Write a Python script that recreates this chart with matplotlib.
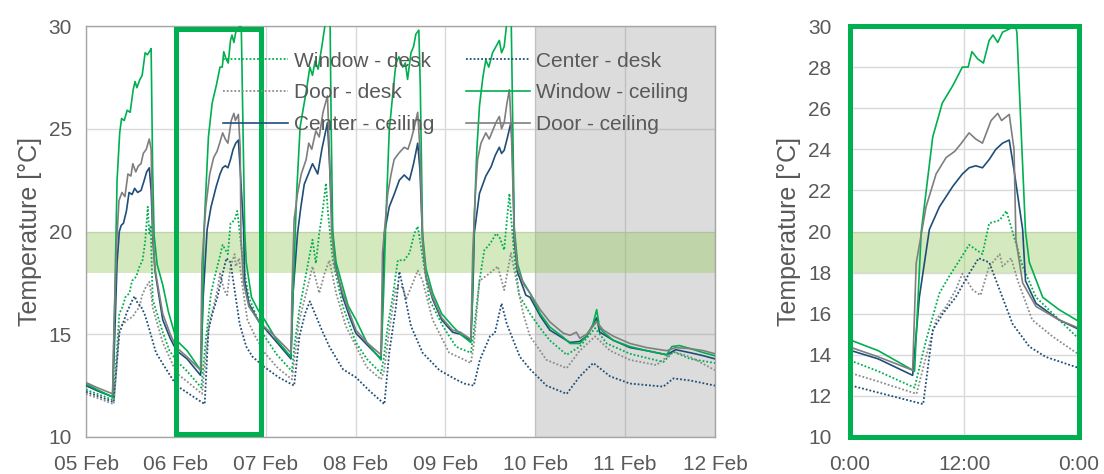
import matplotlib
matplotlib.use("Agg")
import matplotlib.pyplot as plt
import matplotlib.transforms as mtransforms
from matplotlib.patches import Rectangle

plt.rcParams['font.family'] = ['Liberation Sans', 'DejaVu Sans']

# hours since 05 Feb 00:00, temperature in degC
wc_t = [0, 3, 7.1, 7.6, 8.3, 9.0, 9.5, 10.2, 11.0, 11.8, 12.6, 13.1, 13.6, 14.4, 15.0, 15.8, 16.4, 17.1, 17.4, 17.8, 18.2, 19.0, 20.5, 22.0, 24.2,
        27, 30.8, 31.5, 32.7, 33.7, 34.8, 35.8, 36.4, 36.8, 37.4, 38.0, 38.6, 39.0, 39.5, 40.0, 40.9, 41.2, 41.5, 42.4, 42.8, 44.2, 45.9, 47.7,
        51, 54.75, 55.5, 56.3, 57.2, 58.9, 59.8, 60.5, 61.2, 62.0, 63.0, 63.8, 64.5, 65.2, 65.5, 65.9, 66.8, 68.6, 70.0, 72.1,
        75, 78.8, 79.5, 80.1, 81.0, 82.0, 82.8, 83.6, 84.6, 85.3, 85.9, 86.8, 87.5, 88.1, 88.9, 89.3, 89.9, 90.8, 92.6, 95.0, 97.9,
        100, 102.8, 103.2, 103.7, 104.4, 105.1, 106.0, 106.8, 107.6, 108.6, 109.5, 110.4, 111.0, 111.7, 112.3, 112.9, 113.6, 114.0, 114.4, 115.3, 116.6,
        118.6, 121.3, 123.9, 127.5, 129.3, 131.9, 133.7, 135.3, 136.4, 137.2, 138.2, 140.9, 145.3, 149.8, 155.1, 156.5, 158.5, 161.4, 165, 168]
wc_v = [12.6, 12.3, 11.95, 16.0, 22.5, 24.8, 25.5, 25.4, 25.9, 25.8, 26.9, 27.3, 27.0, 27.4, 27.6, 28.7, 28.6, 28.8, 28.9, 23.0, 19.8, 18.4, 17.4, 16.1, 14.7,
        14.2, 13.2, 20.0, 24.6, 26.25, 27.1, 28.0, 28.0, 28.75, 28.4, 28.2, 29.3, 29.56, 29.2, 29.7, 29.9, 30.3, 29.7, 20.0, 18.5, 16.8, 16.2, 15.7,
        14.7, 13.9, 18.0, 22.0, 25.1, 26.9, 28.0, 27.6, 28.3, 27.9, 29.0, 30.0, 31.0, 30.2, 25.0, 20.0, 18.5, 17.3, 16.4, 15.7,
        14.6, 13.75, 17.0, 20.6, 24.9, 26.8, 28.2, 28.5, 28.0, 28.2, 27.4, 28.7, 29.0, 29.6, 29.8, 27.0, 19.9, 18.2, 17.0, 16.0, 15.4,
        15.0, 14.6, 16.5, 20.6, 24.0, 26.1, 27.5, 28.35, 28.0, 28.7, 29.0, 29.3, 28.7, 29.0, 30.0, 31.0, 30.0, 25.0, 20.2, 18.4, 17.6,
        17.0, 16.0, 15.35, 14.85, 14.55, 14.55, 14.9, 15.4, 16.2, 15.3, 15.1, 14.7, 14.4, 14.2, 14.0, 14.4, 14.45, 14.3, 14.1, 13.95]

dc_t = [0, 3, 7.1, 7.5, 8.2, 8.8, 9.6, 10.4, 11.2, 12.0, 12.5, 13.3, 14.0, 14.7, 15.3, 16.1, 16.9, 17.4, 17.8, 18.4, 20.5, 22.5, 24.2,
        27, 30.6, 30.97, 32.0, 33.05, 34.1, 35.0, 35.7, 36.5, 37.2, 37.9, 38.8, 39.5, 39.9, 40.7, 41.2, 41.4, 42.1, 43.5, 45.9, 47.7,
        51, 54.75, 55.0, 55.6, 56.5, 57.5, 58.8, 59.5, 60.3, 61.4, 62.3, 63.3, 64.5, 65.0, 65.6, 66.5, 68.6, 70.5, 72.1,
        75, 78.8, 79.2, 80.6, 81.5, 82.3, 83.5, 85.0, 86.0, 86.8, 87.6, 88.6, 89.2, 89.9, 90.8, 92.6, 95.0, 97.9,
        100, 102.8, 103.3, 104.0, 104.6, 105.5, 106.8, 107.7, 108.6, 109.5, 110.4, 111.0, 111.7, 112.4, 113.1, 113.6, 114.4, 115.3, 117.0,
        118.6, 121.3, 123.9, 127.5, 129.3, 131.0, 131.9, 133.7, 136.4, 138.2, 140.9, 145.3, 149.8, 155.1, 157.5, 161.4, 165, 168]
dc_v = [12.65, 12.4, 12.1, 15.5, 19.5, 21.5, 21.9, 21.7, 22.8, 22.7, 23.3, 22.9, 23.2, 23.3, 23.8, 24.0, 24.5, 24.0, 20.0, 18.2, 16.0, 15.0, 14.35,
        13.9, 13.25, 18.45, 21.2, 22.8, 23.6, 23.9, 24.3, 24.8, 24.5, 24.3, 25.4, 25.75, 25.4, 25.7, 24.0, 19.6, 17.5, 16.35, 15.7, 15.35,
        14.8, 14.1, 17.0, 20.6, 21.85, 22.8, 23.5, 24.3, 24.0, 24.9, 24.6, 25.8, 26.6, 24.0, 20.0, 18.3, 17.0, 16.0, 15.2,
        14.6, 14.0, 18.95, 21.85, 22.8, 23.5, 23.8, 24.1, 24.0, 24.45, 25.0, 25.8, 24.0, 19.6, 17.8, 16.8, 15.8, 15.2,
        15.1, 14.75, 18.95, 21.8, 23.5, 24.3, 24.8, 24.5, 24.9, 25.3, 25.6, 25.0, 25.3, 26.2, 26.9, 25.0, 19.9, 18.2, 17.4,
        17.0, 16.2, 15.6, 15.05, 14.95, 15.1, 14.8, 15.0, 15.6, 15.2, 14.9, 14.55, 14.35, 14.2, 14.35, 14.3, 14.2, 14.05]

cc_t = [0, 3, 7.1, 7.6, 8.3, 8.9, 9.4, 10.0, 10.8, 11.5, 12.3, 13.0, 13.8, 14.7, 15.4, 16.2, 16.9, 17.4, 17.9, 18.5, 20.5, 22.5, 24.2,
        27, 30.6, 31.3, 32.35, 33.4, 34.8, 35.8, 36.5, 37.2, 37.9, 38.6, 39.3, 40.0, 40.7, 41.2, 42.1, 42.4, 43.5, 45.9, 47.7,
        51, 54.75, 55.3, 56.5, 57.4, 58.3, 59.4, 60.5, 61.9, 63.0, 64.5, 65.0, 65.9, 66.8, 68.6, 70.5, 72.1,
        75, 78.8, 79.7, 81.0, 82.3, 83.7, 85.0, 86.4, 87.5, 88.6, 89.2, 89.9, 90.8, 92.6, 95.0, 97.9,
        100, 102.8, 103.4, 103.7, 105.1, 106.8, 108.2, 109.3, 110.4, 111.0, 111.7, 112.6, 113.5, 113.9, 114.4, 115.3, 117.5,
        118.6, 121.3, 123.9, 127.5, 129.3, 131.9, 133.7, 136.4, 137.2, 138.2, 140.9, 145.3, 149.8, 155.1, 157.5, 161.4, 165, 168]
cc_v = [12.5, 12.25, 11.95, 14.5, 18.5, 20.0, 20.3, 20.4, 21.0, 21.9, 21.8, 22.1, 21.9, 22.0, 22.4, 22.9, 23.1, 22.0, 19.5, 18.0, 15.7, 14.8, 14.2,
        13.8, 13.0, 16.8, 20.1, 21.2, 22.2, 22.8, 23.1, 23.2, 23.1, 23.5, 24.0, 24.3, 24.45, 23.0, 20.1, 17.6, 16.5, 15.7, 15.3,
        14.6, 13.8, 17.0, 19.9, 21.2, 22.3, 22.8, 23.3, 22.8, 24.0, 25.3, 23.5, 19.75, 18.2, 16.8, 15.8, 15.05,
        14.5, 13.8, 19.9, 21.2, 21.8, 22.5, 22.75, 22.5, 23.3, 24.3, 23.0, 19.6, 17.8, 16.7, 15.7, 15.1,
        15.0, 14.7, 17.5, 19.9, 21.85, 22.7, 23.15, 23.7, 24.1, 23.8, 23.95, 24.6, 25.3, 24.0, 19.6, 18.0, 16.9,
        16.8, 15.9, 15.2, 14.8, 14.6, 14.65, 14.9, 15.8, 15.1, 15.0, 14.7, 14.35, 14.2, 14.0, 14.25, 14.1, 13.95, 13.8]

wd_t = [0, 3, 7.3, 8.0, 8.9, 9.8, 10.5, 11.6, 12.3, 13.4, 14.3, 15.1, 15.8, 16.5, 16.9, 17.3, 17.8, 20.5, 22.3, 24.2,
        27, 30.8, 32.0, 33.4, 34.4, 35.5, 36.5, 37.9, 38.6, 39.7, 40.4, 41.1, 42.1, 43.5, 45.6, 47.7,
        51, 55.0, 55.7, 57.0, 58.8, 60.5, 61.4, 62.3, 63.2, 64.1, 64.6, 65.9, 68.6, 72.1,
        75, 78.8, 79.5, 80.6, 81.9, 83.3, 85.0, 86.4, 87.7, 88.6, 89.5, 91.7, 95.3, 98.8,
        100, 102.8, 103.5, 105.1, 106.4, 107.5, 108.6, 109.5, 110.4, 111.7, 112.4, 113.1, 113.6, 114.4, 115.7,
        118.6, 121.3, 123.9, 128.4, 131.9, 136.0, 139.1, 145.3, 154.2, 156.9, 161.4, 168]
wd_v = [12.3, 12.1, 11.8, 13.5, 16.0, 16.35, 16.8, 17.0, 17.6, 17.8, 18.3, 18.6, 19.5, 21.2, 19.9, 20.3, 16.7, 15.1, 14.2, 13.7,
        13.2, 12.4, 14.7, 17.0, 17.8, 18.6, 19.35, 18.9, 20.4, 20.55, 21.0, 19.9, 18.3, 16.8, 15.85, 14.9,
        14.0, 13.2, 14.5, 16.2, 17.95, 19.6, 18.45, 19.9, 21.0, 22.35, 21.0, 18.6, 16.35, 14.6,
        13.8, 13.1, 13.8, 15.4, 16.8, 18.6, 18.6, 18.95, 19.9, 20.25, 19.25, 16.7, 15.4, 14.4,
        14.3, 14.1, 15.0, 17.6, 19.1, 19.3, 19.6, 19.9, 19.75, 19.1, 20.5, 21.85, 20.6, 18.8, 16.9,
        16.0, 15.3, 14.7, 14.0, 14.4, 15.3, 14.55, 14.05, 13.65, 14.15, 13.8, 13.6]

dd_t = [0, 3, 7.4, 8.2, 8.9, 10.0, 11.0, 12.5, 13.3, 14.2, 15.0, 16.0, 16.9, 17.4, 17.8, 20.5, 22.5, 24.2,
        27, 31.0, 32.0, 33.05, 34.1, 35.1, 35.8, 36.9, 37.7, 38.6, 39.7, 40.0, 40.9, 41.6, 43.1, 45.2, 47.7,
        51, 55.0, 55.8, 57.0, 58.8, 60.5, 62.3, 63.7, 65.0, 66.8, 69.4, 73,
        75, 78.8, 79.6, 81.0, 82.8, 84.6, 85.5, 87.3, 88.6, 89.9, 92.6, 97,
        100, 102.8, 103.6, 105.1, 107.7, 110.0, 111.7, 113.5, 115.3, 116.8,
        118.6, 123.0, 128.4, 131.9, 136.0, 140.0, 145.3, 152.4, 156.9, 161.4, 168]
dd_v = [12.1, 11.9, 11.6, 13.5, 15.4, 15.5, 15.7, 15.85, 16.1, 16.3, 16.9, 17.3, 17.55, 17.0, 16.3, 14.6, 13.8, 13.1,
        12.7, 12.1, 13.9, 15.7, 16.35, 17.15, 17.95, 17.15, 16.9, 18.3, 18.9, 18.3, 18.7, 17.6, 15.7, 14.9, 14.1,
        13.4, 12.8, 14.0, 15.7, 17.0, 18.3, 17.0, 17.95, 18.6, 17.0, 15.4, 14.1,
        13.4, 12.8, 13.2, 15.2, 17.3, 17.3, 16.7, 17.5, 18.1, 17.6, 15.7, 14.1,
        13.85, 13.6, 14.5, 17.6, 17.95, 18.3, 17.15, 18.95, 17.3, 16.0,
        14.9, 13.75, 13.35, 14.2, 14.9, 14.2, 13.75, 13.5, 14.15, 13.9, 13.25]

cd_t = [0, 3, 7.4, 8.2, 8.9, 10.0, 11.0, 12.5, 13.0, 13.8, 14.7, 15.6, 16.5, 18.7, 21.4, 24.2,
        27.5, 31.7, 32.7, 33.75, 35.1, 36.5, 37.5, 38.6, 39.7, 41.05, 42.8, 44.5, 47.7,
        51.5, 55.6, 57.0, 58.5, 59.8, 61.4, 63.0, 65.0, 68.6, 72.1,
        76, 79.7, 81.0, 82.8, 83.7, 85.0, 86.8, 89.9, 94.4, 98.8,
        101, 103.6, 105.2, 107.9, 109.2, 111.0, 112.4, 115.9, 118.6,
        123.0, 128.4, 131.9, 135.5, 140.0, 145.3, 154.2, 156.9, 161.4, 168]
cd_v = [12.2, 12.0, 11.7, 13.5, 15.05, 15.6, 16.1, 16.7, 16.85, 16.5, 16.35, 16.0, 15.5, 14.1, 13.3, 12.5,
        12.1, 11.6, 15.2, 16.0, 16.8, 17.95, 18.7, 18.5, 17.15, 15.5, 14.4, 13.9, 13.4,
        12.9, 12.5, 14.9, 16.0, 16.6, 15.9, 15.2, 14.4, 13.3, 12.9,
        12.2, 11.6, 14.1, 16.35, 18.05, 17.0, 15.4, 14.1, 13.25, 12.8,
        12.6, 12.5, 13.75, 14.9, 15.05, 16.5, 15.5, 13.9, 13.3,
        12.5, 12.1, 12.95, 13.6, 12.95, 12.6, 12.45, 12.85, 12.75, 12.5]

day_ticks = [0, 24, 48, 72, 96, 120, 144, 168]
day_labels = ['05 Feb', '06 Feb', '07 Feb', '08 Feb', '09 Feb', '10 Feb', '11 Feb', '12 Feb']
hour_ticks = [24, 36, 48]
hour_labels = ['0:00', '12:00', '0:00']
comfort = (18, 20)
weekend = (120, 168)
zoom_day = (24, 46.8)

GREEN = '#00b050'
GREY = '#7f7f7f'
NAVY = '#1f4e79'
TXT = '#595959'

series = [
    (wd_t, wd_v, 'Window - desk', GREEN, ':'),
    (dd_t, dd_v, 'Door - desk', '#8c8c8c', ':'),
    (cc_t, cc_v, 'Center - ceiling', NAVY, '-'),
    (cd_t, cd_v, 'Center - desk', NAVY, ':'),
    (wc_t, wc_v, 'Window - ceiling', GREEN, '-'),
    (dc_t, dc_v, 'Door - ceiling', GREY, '-'),
]

fig = plt.figure(figsize=(11.04, 4.74), dpi=100)
ax1 = fig.add_axes([0.0779, 0.0781, 0.5697, 0.867])
ax2 = fig.add_axes([0.7695, 0.0781, 0.2079, 0.867])


def draw(ax, ypad):
    for t, v, lab, col, ls in series:
        if ls == ':':
            ax.plot(t, v, color=col, lw=1.3, ls=(0, (1, 1.1)), label=lab, zorder=3)
        else:
            ax.plot(t, v, color=col, lw=1.2, ls='-', label=lab, zorder=3)
    ax.axhspan(*comfort, color='#96ca5f', alpha=0.4, lw=0, zorder=2)
    ax.set_ylim(10, 30)
    ax.grid(True, color='#d9d9d9', lw=1.0, zorder=0)
    ax.set_axisbelow(True)
    ax.tick_params(length=0, labelsize=15, labelcolor=TXT)
    ax.tick_params(axis='x', pad=13)
    ax.tick_params(axis='y', pad=ypad)
    ax.set_ylabel('Temperature [°C]', fontsize=18, color=TXT, labelpad=5)


draw(ax1, 10)
ax1.set_xlim(0, 168)
ax1.set_xticks(day_ticks, day_labels)
ax1.set_yticks([10, 15, 20, 25, 30])
ax1.axvspan(*weekend, color='#808080', alpha=0.27, lw=0, zorder=1)
for s in ax1.spines.values():
    s.set_color('#a6a6a6')
    s.set_linewidth(1.0)

# frame marking the day shown on the right
trans = mtransforms.blended_transform_factory(ax1.transData, ax1.transAxes)
ax1.add_patch(Rectangle((zoom_day[0], 0.007), zoom_day[1] - zoom_day[0], 0.986,
                        transform=trans, fill=False, ec=GREEN, lw=3.6, zorder=5, clip_on=False))

ax1.legend(ncol=2, loc='upper left', bbox_to_anchor=(0.218, 0.938), frameon=False,
           fontsize=15, labelcolor=TXT, handlelength=3.1, handletextpad=0.3,
           columnspacing=1.5, labelspacing=0.62, borderpad=0, borderaxespad=0)

draw(ax2, 13)
ax2.set_xlim(24, 48)
ax2.set_xticks(hour_ticks, hour_labels)
ax2.set_yticks(range(10, 31, 2))
ax2.grid(True, axis='x', color='#d9d9d9', lw=1.0)
for s in ax2.spines.values():
    s.set_color(GREEN)
    s.set_linewidth(3.6)
    s.set_zorder(6)

fig.savefig('out.png', dpi=100)
